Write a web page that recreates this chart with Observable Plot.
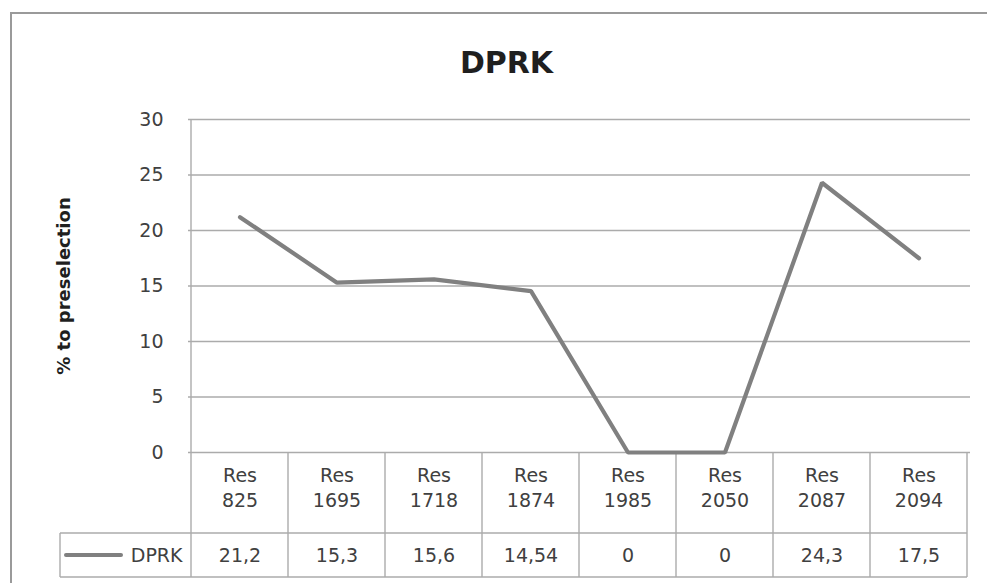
<!DOCTYPE html>
<html>
<head>
<meta charset="utf-8">
<script src="https://cdn.jsdelivr.net/npm/d3@7"></script>
<script src="https://cdn.jsdelivr.net/npm/@observablehq/plot@0.6"></script>
<style>
  html, body { margin: 0; padding: 0; background: #fff; }
  #wrap { position: relative; width: 987px; height: 583px; overflow: hidden; }
  #border { position: absolute; left: 10px; top: 12px; width: 1000px; height: 600px;
            border-left: 2px solid #9a9a9a; border-top: 2px solid #9a9a9a; box-sizing: border-box; pointer-events: none; }
  #chart { position: absolute; left: 0; top: 0; }
</style>
</head>
<body>
<div id="wrap"><div id="chart"></div><div id="border"></div></div>
<script>
const title = "DPRK";
const yLabel = "% to preselection";
const seriesName = "DPRK";
const categories = ["Res 825", "Res 1695", "Res 1718", "Res 1874", "Res 1985", "Res 2050", "Res 2087", "Res 2094"];
const values = [21.2, 15.3, 15.6, 14.54, 0, 0, 24.3, 17.5];
const yTicks = [0, 5, 10, 15, 20, 25, 30];

const data = categories.map((c, i) => ({cat: c, value: values[i]}));
const fmt = v => String(v).replace(".", ",");

const W = 987, H = 583;
const M = {top: 119, bottom: 131, left: 188, right: 17};
const HEADER_H = 81, ROW_H = 44, LEGEND_W = 131;
const gridColor = "#ababab";
const textColor = "#404040";
const lineColor = "#808080";
const font = "DejaVu Sans";

function tableGrid(index, scales, vals, dim) {
  const x = scales.x, y = scales.y;
  const n = categories.length;
  const bw = x.bandwidth ? x.bandwidth() : (dim.width - dim.marginLeft - dim.marginRight) / n;
  const left = x(categories[0]);
  const right = x(categories[n - 1]) + bw;
  const yTop = y(d3.max(yTicks));
  const y0 = y(0);
  const hb = y0 + HEADER_H;
  const rb = hb + ROW_H;
  const g = d3.create("svg:g").attr("fill", "none").attr("stroke", gridColor).attr("stroke-width", 1.4);
  g.append("line").attr("x1", left).attr("x2", left).attr("y1", yTop).attr("y2", rb);
  categories.forEach(c => {
    const xr = x(c) + bw;
    g.append("line").attr("x1", xr).attr("x2", xr).attr("y1", y0).attr("y2", rb);
  });
  g.append("line").attr("x1", left - LEGEND_W).attr("x2", right).attr("y1", hb).attr("y2", hb);
  g.append("line").attr("x1", left - LEGEND_W).attr("x2", right).attr("y1", rb).attr("y2", rb);
  g.append("line").attr("x1", left - LEGEND_W).attr("x2", left - LEGEND_W).attr("y1", hb).attr("y2", rb);
  g.append("line").attr("x1", left - LEGEND_W + 6).attr("x2", left - 70).attr("y1", hb + ROW_H / 2).attr("y2", hb + ROW_H / 2)
    .attr("stroke", lineColor).attr("stroke-width", 4).attr("stroke-linecap", "round");
  return g.node();
}

const chart = Plot.plot({
  width: W,
  height: H,
  marginTop: M.top,
  marginBottom: M.bottom,
  marginLeft: M.left,
  marginRight: M.right,
  style: {fontFamily: font, fontSize: "19px", color: textColor, background: "transparent"},
  x: {type: "band", domain: categories, padding: 0, axis: null},
  y: {domain: [0, 30], ticks: yTicks, tickSize: 0, tickPadding: 25, label: null, tickFormat: d => String(d)},
  marks: [
    Plot.ruleY(yTicks, {stroke: gridColor, strokeWidth: 1.4}),
    tableGrid,
    Plot.line(data, {x: "cat", y: "value", stroke: lineColor, strokeWidth: 4.2, strokeLinejoin: "miter", strokeLinecap: "round"}),
    Plot.text(data, {x: "cat", y: 0, text: d => d.cat.replace(" ", "\n"), dy: 34, lineAnchor: "middle", lineHeight: 1.33, fontSize: 19, fill: textColor}),
    Plot.text(data, {x: "cat", y: 0, text: d => fmt(d.value), dy: HEADER_H + ROW_H / 2, lineAnchor: "middle", fontSize: 19, fill: textColor}),
    Plot.text([seriesName], {frameAnchor: "left", y: 0, dx: -6, dy: HEADER_H + ROW_H / 2, textAnchor: "end", lineAnchor: "middle", fontSize: 19, fill: textColor}),
    Plot.text([title], {frameAnchor: "top", dx: -73, dy: -56, textAnchor: "middle", lineAnchor: "middle", fontSize: 30, fontWeight: "bold", fill: "#1f1f1f"}),
    Plot.text([yLabel], {frameAnchor: "left", dx: -124, rotate: -90, textAnchor: "middle", lineAnchor: "middle", fontSize: 18, fontWeight: "bold", fill: "#1f1f1f"})
  ]
});
document.getElementById("chart").appendChild(chart);
</script>
</body>
</html>
